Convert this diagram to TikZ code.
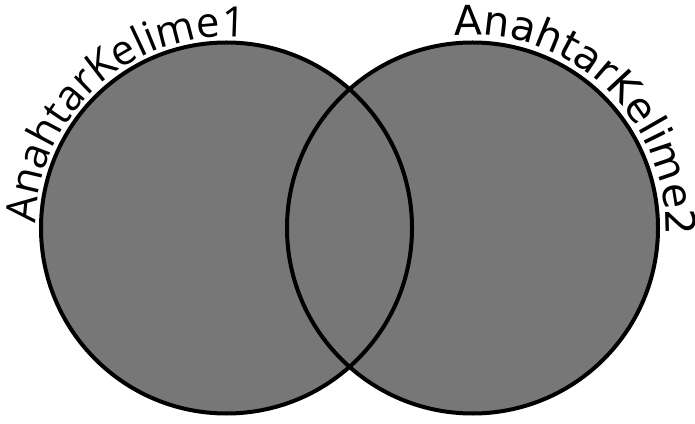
\documentclass[tikz,border=0pt]{standalone}
\usepackage{fontspec}
\usetikzlibrary{decorations.text}
\newfontfamily\setfontA{Open Sans}
\newfontfamily\setfontB{DejaVu Sans}
\definecolor{cSet}{HTML}{777777}
\tikzset{
  setdisc/.style={circle,fill=cSet,minimum size=371pt,inner sep=0pt},
  setline/.style={draw=black,line width=4pt},
  arclabel/.style={decorate,decoration={text along path,text align=center,text={#1}}},
}

\begin{document}
\begin{tikzpicture}[x=1pt,y=1pt]
\useasboundingbox (0,0) rectangle (695,423);

% ---------------------------------------------------------------- sets
\node[setdisc] (kw1) at (226.5,195) {};
\node[setdisc] (kw2) at (472.5,195) {};

\draw[setline] (kw1.center) circle[radius=185.5];
\draw[setline] (kw2.center) circle[radius=185.5];

% ---------------------------------------------------------------- labels
\path[arclabel={|\setfontA\fontsize{42}{42}\selectfont|AnahtarKelime1}]
  (kw1.center) ++(182:191) arc[start angle=182,end angle=81,radius=191];
\path[arclabel={|\setfontB\fontsize{41}{41}\selectfont|AnahtarKelime2}]
  (kw2.center) ++(97:193) arc[start angle=97,end angle=-4,radius=193];

\end{tikzpicture}
\end{document}
